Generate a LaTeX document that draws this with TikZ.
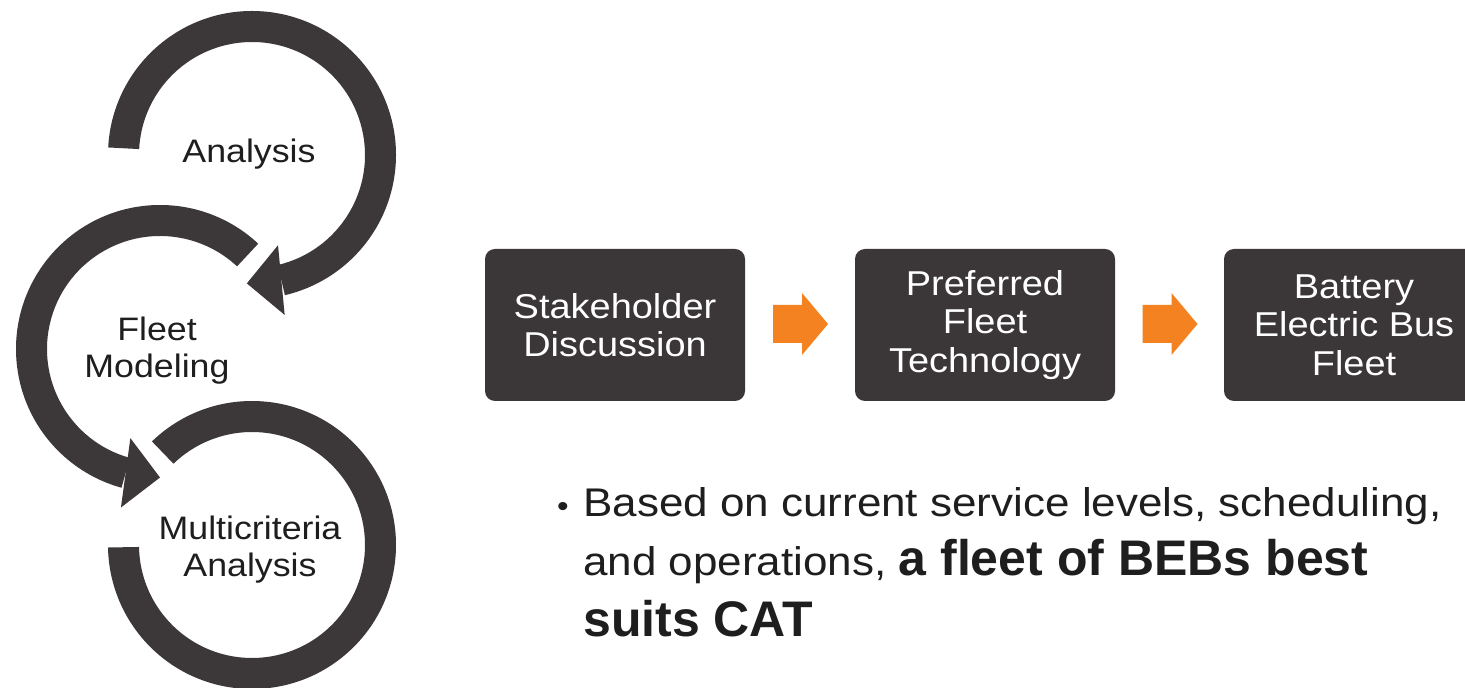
\documentclass[tikz,border=0pt]{standalone}
\usepackage{fontspec}
\setmainfont{Liberation Sans}
\newfontfamily\wide{Liberation Sans}[FakeStretch=1.1]
\usetikzlibrary{calc}
\definecolor{arcgray}{RGB}{60,55,56}
\definecolor{boxgray}{RGB}{59,54,55}
\definecolor{orng}{RGB}{245,130,32}
\definecolor{txt}{RGB}{30,30,30}
\newcommand\ringpart[5]{% center, start, end, rin, rout
  \fill[ringarc] ($(#1)+(#2:#5)$) arc[start angle=#2, end angle=#3, radius=#5]
    -- ($(#1)+(#3:#4)$) arc[start angle=#3, end angle=#2, radius=#4] -- cycle;}
\newcommand\ringhead[3]{% base, tip
  \fill[ringarc] (#2) -- ($(#1)!#3!90:(#2)$) -- ($(#1)!#3!-90:(#2)$) -- cycle;}
\newcommand\blockarr[1]{%
  \fill[blockarrow] ($(#1)+(-27,-19)$) -- ($(#1)+(2,-19)$) -- ($(#1)+(2,-31)$)
    -- ($(#1)+(28,0)$) -- ($(#1)+(2,31)$) -- ($(#1)+(2,19)$) -- ($(#1)+(-27,19)$) -- cycle;}
\begin{document}
\begin{tikzpicture}[x=1pt,y=1pt,
  ringarc/.style={fill=arcgray},
  blockarrow/.style={fill=orng},
  stepbox/.style={fill=boxgray, rounded corners=10pt, minimum width=260pt,
    minimum height=152pt, text=white, align=center, inner sep=0pt,
    font=\wide\fontsize{34.5}{38.5}\selectfont},
  ringlabel/.style={text=txt, align=center, inner sep=0pt,
    font=\wide\fontsize{32.5}{37}\selectfont},
  bodytext/.style={text=txt, inner sep=0pt, anchor=base west,
    font=\wide\fontsize{40}{60}\selectfont}]
\clip (0,0) rectangle (1465,688);
\fill[white] (0,0) rectangle (1465,688);

% rings
\coordinate (C1) at (252,533);
\coordinate (C2) at (160,339);
\coordinate (C3) at (252,143);
\ringpart{C1}{177}{-76.8}{113}{144}
\coordinate (M1) at ($(C1)+(-76.8:128.5)$);
\coordinate (T1) at ($(C1)+(-92.3:128.5)$);
\ringhead{M1}{T1}{35pt}
\ringpart{C2}{47}{254.5}{113}{144}
\coordinate (M2) at ($(C2)+(254.5:128.5)$);
\coordinate (T2) at ($(C2)+(270:128.5)$);
\ringhead{M2}{T2}{35pt}
\ringpart{C3}{134}{-179}{113}{144}

\node[ringlabel, anchor=base] (lab1) at (249,525) {Analysis};
\node[ringlabel, anchor=base] (lab2) at (157,310) {Fleet\\Modeling};
\node[ringlabel, anchor=base] (lab3) at (250,111) {Multicriteria\\Analysis};

% process boxes
\node[stepbox] (b1) at (615,363) {Stakeholder\\Discussion};
\node[stepbox] (b2) at (985,363) {Preferred\\Fleet\\Technology};
\node[stepbox] (b3) at (1354,363) {Battery\\Electric Bus\\Fleet};
\coordinate (a1) at ($(b1.east)!0.5!(b2.west)+(0,1)$);
\coordinate (a2) at ($(b2.east)!0.5!(b3.west)+(0,1)$);
\blockarr{a1}
\blockarr{a2}

% bullet text
\node[text=txt, inner sep=0pt, font=\wide\fontsize{30}{30}\selectfont] (dot) at (563,178) {•};
\node[bodytext] (l1) at (583,171) {Based on current service levels, scheduling,};
\node[bodytext] (l2) at (583,112) {and operations, {\fontsize{50}{60}\selectfont\rmfamily\bfseries a fleet of BEBs best}};
\node[bodytext, font=\fontsize{50}{60}\selectfont\bfseries] (l3) at (583,51) {suits CAT};
\end{tikzpicture}
\end{document}
